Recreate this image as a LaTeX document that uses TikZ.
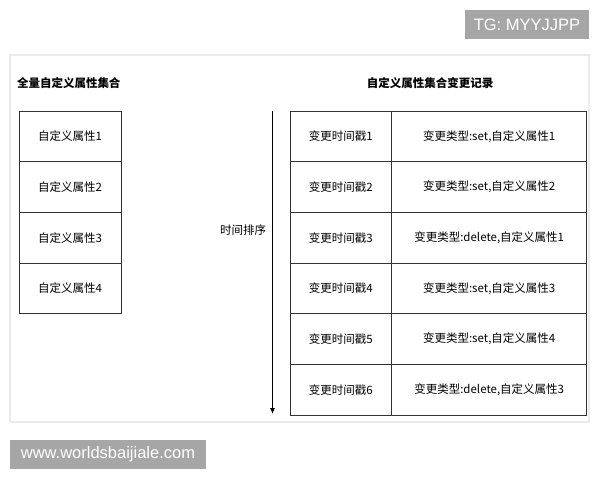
\documentclass[tikz,border=0pt]{standalone}
\usepackage{fontspec}
\setmainfont{Liberation Sans}
\newfontfamily\cjk{Noto Sans CJK SC}
\usetikzlibrary{arrows.meta}

\begin{document}
\begin{tikzpicture}[x=1pt,y=-1pt,inner sep=0pt,outer sep=0pt,
  cell/.style={draw=black!80,line width=0.8pt,minimum height=50.7pt,font=\cjk\fontsize{11.5}{13}\selectfont},
  attr/.style={cell,minimum width=102pt},
  stamp/.style={cell,minimum width=101.7pt},
  change/.style={cell,minimum width=195pt},
  heading/.style={font=\cjk\bfseries\fontsize{11.5}{13}\selectfont},
  mark box/.style={fill=black!35,text=white,font=\fontsize{16.5}{18}\selectfont}]
\useasboundingbox (0,0) rectangle (600,480);
% panel
\draw [draw=black!8,line width=2pt,fill=white] (10,55) rectangle (589,422);
% watermarks
\node [mark box,minimum width=124pt,minimum height=29pt] (tg) at (527,24.5) {TG: MYYJJPP};
\node [mark box,minimum width=196pt,minimum height=29pt] (site) at (108,454.5) {www.worldsbaijiale.com};
% headings
\node [heading,anchor=west] (allset) at (17,83) {全量自定义属性集合};
\node [heading] (changelog) at (430,83) {自定义属性集合变更记录};
% left column
\node [attr] (a1) at (70,136.35) {自定义属性1};
\node [attr] (a2) at (70,187.02) {自定义属性2};
\node [attr] (a3) at (70,237.69) {自定义属性3};
\node [attr] (a4) at (70,288.36) {自定义属性4};
% time axis
\coordinate (t0) at (272.5,111);
\coordinate (t1) at (272.5,414);
\draw [line width=0.8pt,-{Latex[length=6pt,width=5pt]}] (t0) -- (t1);
\node [font=\cjk\fontsize{11.5}{13}\selectfont] (order) at (243,230) {时间排序};
% change log
\node [stamp] (s1) at (340.85,136.35) {变更时间戳1};
\node [change] (c1) at (489.2,136.35) {变更类型:set,自定义属性1};
\node [stamp] (s2) at (340.85,187.02) {变更时间戳2};
\node [change] (c2) at (489.2,187.02) {变更类型:set,自定义属性2};
\node [stamp] (s3) at (340.85,237.69) {变更时间戳3};
\node [change] (c3) at (489.2,237.69) {变更类型:delete,自定义属性1};
\node [stamp] (s4) at (340.85,288.36) {变更时间戳4};
\node [change] (c4) at (489.2,288.36) {变更类型:set,自定义属性3};
\node [stamp] (s5) at (340.85,339.03) {变更时间戳5};
\node [change] (c5) at (489.2,339.03) {变更类型:set,自定义属性4};
\node [stamp] (s6) at (340.85,389.7) {变更时间戳6};
\node [change] (c6) at (489.2,389.7) {变更类型:delete,自定义属性3};
\end{tikzpicture}
\end{document}
